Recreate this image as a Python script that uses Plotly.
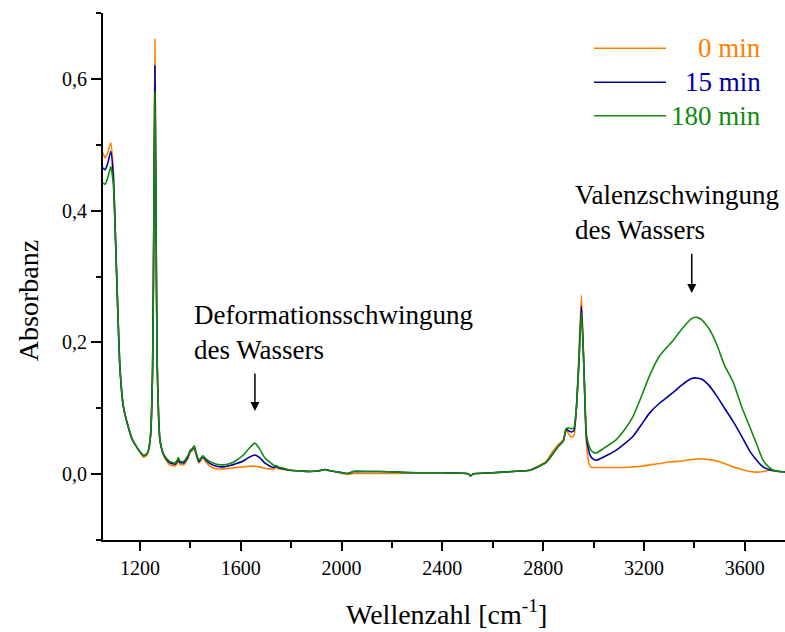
import plotly.graph_objects as go

# Wavenumbers [cm^-1]
wavenumber = [1053, 1061, 1072, 1084, 1094, 1107, 1120, 1134, 1153, 1170, 1187, 1200, 1213, 1225, 1233,
              1242, 1250, 1255, 1259, 1263, 1268, 1279, 1290, 1299, 1319, 1339, 1347, 1352, 1358, 1372,
              1390, 1399, 1408, 1415, 1422, 1434, 1449, 1462, 1478, 1504, 1530, 1557, 1583, 1610, 1635,
              1656, 1675, 1695, 1716, 1732, 1740, 1748, 1770, 1795, 1830, 1874, 1910, 1934, 1954, 1990,
              2020, 2035, 2046, 2100, 2150, 2218, 2300, 2400, 2496, 2505, 2512, 2520, 2536, 2600, 2680,
              2747, 2785, 2813, 2837, 2860, 2880, 2891, 2900, 2911, 2922, 2932, 2942, 2952, 2962, 2972,
              2985, 2995, 3010, 3040, 3089, 3120, 3156, 3190, 3223, 3263, 3290, 3316, 3350, 3389, 3410,
              3430, 3460, 3490, 3520, 3554, 3590, 3620, 3650, 3673, 3695, 3713, 3740, 3765]

absorb_0min = [0.488, 0.480, 0.488, 0.503, 0.460, 0.305, 0.163, 0.102, 0.072, 0.052, 0.041, 0.033, 0.026, 0.028, 0.034,
               0.060, 0.170, 0.420, 0.660, 0.440, 0.170, 0.050, 0.032, 0.024, 0.014, 0.012, 0.016, 0.020, 0.015, 0.014,
               0.024, 0.033, 0.036, 0.040, 0.030, 0.017, 0.025, 0.018, 0.012, 0.008, 0.008, 0.009, 0.010, 0.011, 0.012,
               0.012, 0.011, 0.009, 0.008, 0.008, 0.011, 0.008, 0.007, 0.006, 0.005, 0.004, 0.005, 0.007, 0.005, 0.002,
               0.000, 0.000, 0.001, 0.001, 0.001, 0.001, 0.002, 0.002, 0.001, 0.000, -0.003, 0.000, 0.001, 0.002, 0.004,
               0.006, 0.013, 0.020, 0.034, 0.045, 0.052, 0.066, 0.062, 0.056, 0.058, 0.100, 0.180, 0.272, 0.160, 0.045,
               0.013, 0.010, 0.010, 0.010, 0.010, 0.010, 0.011, 0.012, 0.014, 0.016, 0.018, 0.019, 0.020, 0.022, 0.023,
               0.023, 0.022, 0.020, 0.016, 0.011, 0.007, 0.004, 0.003, 0.004, 0.006, 0.006, 0.004, 0.003]

absorb_15min = [0.465, 0.462, 0.472, 0.490, 0.452, 0.305, 0.163, 0.102, 0.072, 0.052, 0.041, 0.034, 0.028, 0.030, 0.036,
                0.060, 0.165, 0.400, 0.620, 0.420, 0.170, 0.052, 0.033, 0.026, 0.017, 0.015, 0.019, 0.023, 0.018, 0.017,
                0.026, 0.035, 0.038, 0.042, 0.032, 0.019, 0.027, 0.021, 0.016, 0.012, 0.011, 0.013, 0.016, 0.020, 0.026,
                0.029, 0.025, 0.017, 0.012, 0.010, 0.012, 0.010, 0.008, 0.006, 0.005, 0.004, 0.005, 0.007, 0.005, 0.003,
                0.001, 0.002, 0.004, 0.004, 0.004, 0.003, 0.002, 0.002, 0.001, 0.000, -0.003, 0.000, 0.001, 0.002, 0.004,
                0.006, 0.012, 0.018, 0.030, 0.042, 0.050, 0.068, 0.066, 0.064, 0.066, 0.100, 0.170, 0.255, 0.160, 0.055,
                0.030, 0.024, 0.021, 0.026, 0.036, 0.045, 0.057, 0.075, 0.093, 0.108, 0.116, 0.124, 0.135, 0.145, 0.146,
                0.144, 0.134, 0.118, 0.100, 0.080, 0.056, 0.035, 0.020, 0.011, 0.007, 0.005, 0.004, 0.003]

absorb_180min = [0.442, 0.440, 0.450, 0.467, 0.440, 0.305, 0.163, 0.102, 0.072, 0.052, 0.041, 0.034, 0.029, 0.030, 0.036,
                 0.060, 0.160, 0.380, 0.580, 0.400, 0.170, 0.052, 0.034, 0.027, 0.019, 0.017, 0.021, 0.025, 0.020, 0.019,
                 0.028, 0.036, 0.039, 0.043, 0.033, 0.021, 0.028, 0.023, 0.019, 0.015, 0.014, 0.016, 0.021, 0.029, 0.040,
                 0.047, 0.038, 0.025, 0.018, 0.013, 0.013, 0.011, 0.009, 0.006, 0.005, 0.004, 0.005, 0.007, 0.005, 0.003,
                 0.001, 0.002, 0.004, 0.004, 0.004, 0.003, 0.002, 0.002, 0.001, 0.000, -0.003, 0.000, 0.001, 0.002, 0.004,
                 0.006, 0.012, 0.018, 0.030, 0.042, 0.050, 0.069, 0.070, 0.069, 0.070, 0.100, 0.170, 0.245, 0.160, 0.060,
                 0.040, 0.034, 0.032, 0.039, 0.052, 0.066, 0.087, 0.118, 0.150, 0.180, 0.192, 0.203, 0.220, 0.236, 0.238,
                 0.234, 0.220, 0.196, 0.165, 0.140, 0.100, 0.072, 0.043, 0.021, 0.011, 0.006, 0.004, 0.003]

series_names = ["0 min", "15 min", "180 min"]
series_colors = ["#FF8000", "#0000A0", "#108A10"]
series_values = [absorb_0min, absorb_15min, absorb_180min]

x_tick_values = [1200, 1600, 2000, 2400, 2800, 3200, 3600]
y_tick_values = [0.0, 0.2, 0.4, 0.6]
y_tick_labels = ["0,0", "0,2", "0,4", "0,6"]

FONT = "Liberation Serif"

fig = go.Figure()
for name, color, vals in zip(series_names, series_colors, series_values):
    fig.add_trace(go.Scatter(x=wavenumber, y=vals, mode="lines", name=name,
                             line=dict(color=color, width=1.6, shape="spline", smoothing=0.5),
                             showlegend=False))

# Manual legend (line sample + right-aligned coloured text)
legend_y = [0.933, 0.8685, 0.805]
for name, color, ly in zip(series_names, series_colors, legend_y):
    fig.add_shape(type="line", xref="paper", yref="paper", x0=0.720, x1=0.8255, y0=ly, y1=ly,
                  line=dict(color=color, width=1.6))
    fig.add_annotation(xref="paper", yref="paper", x=0.968, y=ly, xanchor="right", yanchor="middle",
                       text=name, showarrow=False, font=dict(family=FONT, size=27, color=color))

# Text annotations
fig.add_annotation(x=1406, y=0.268, xref="x", yref="y", xanchor="left", yanchor="top", align="left",
                   text="Deformationsschwingung<br>des Wassers", showarrow=False,
                   font=dict(family=FONT, size=27, color="black"))
fig.add_annotation(x=2918, y=0.450, xref="x", yref="y", xanchor="left", yanchor="top", align="left",
                   text="Valenzschwingung<br>des Wassers", showarrow=False,
                   font=dict(family=FONT, size=27, color="black"))
# Arrows
fig.add_annotation(x=1656, y=0.096, ax=1656, ay=0.155, xref="x", yref="y", axref="x", ayref="y",
                   text="", showarrow=True, arrowhead=2, arrowsize=1.2, arrowwidth=1.5, arrowcolor="black")
fig.add_annotation(x=3390, y=0.275, ax=3390, ay=0.337, xref="x", yref="y", axref="x", ayref="y",
                   text="", showarrow=True, arrowhead=2, arrowsize=1.2, arrowwidth=1.5, arrowcolor="black")

# Axis titles
fig.add_annotation(xref="paper", yref="paper", x=-0.11, y=0.455, xanchor="center", yanchor="middle",
                   text="Absorbanz", textangle=-90, showarrow=False,
                   font=dict(family=FONT, size=28, color="black"))
fig.add_annotation(xref="paper", yref="paper", x=0.504, y=-0.1385, xanchor="center", yanchor="middle",
                   text="Wellenzahl [cm<sup>-1</sup>]", showarrow=False,
                   font=dict(family=FONT, size=28, color="black"))

fig.update_layout(
    width=785, height=632,
    margin=dict(l=103, r=0, t=13, b=92),
    paper_bgcolor="white", plot_bgcolor="white",
    font=dict(family=FONT, color="black"),
    showlegend=False,
)
fig.update_xaxes(range=[1053, 3760], showgrid=False, zeroline=False,
                 showline=True, linecolor="black", linewidth=2,
                 ticks="outside", ticklen=9, tickwidth=2, tickcolor="black",
                 tickvals=x_tick_values, tickfont=dict(family=FONT, size=20, color="black"),
                 minor=dict(dtick=200, tick0=1200, ticks="outside", ticklen=6, tickwidth=2,
                            tickcolor="black", showgrid=False))
fig.update_yaxes(range=[-0.1, 0.7], showgrid=False, zeroline=False,
                 showline=True, linecolor="black", linewidth=2,
                 ticks="outside", ticklen=10, tickwidth=2, tickcolor="black",
                 tickvals=y_tick_values, ticktext=y_tick_labels,
                 tickfont=dict(family=FONT, size=20, color="black"),
                 minor=dict(dtick=0.1, tick0=0, ticks="outside", ticklen=5, tickwidth=2,
                            tickcolor="black", showgrid=False))

fig.write_html("out.html")
